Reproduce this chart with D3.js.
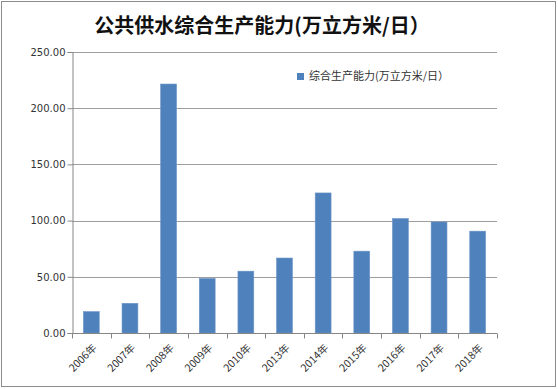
<!DOCTYPE html>
<html>
<head>
<meta charset="utf-8">
<script src="https://cdn.jsdelivr.net/npm/d3@7"></script>
<style>
  body { margin: 0; background: #fff; }
  text { font-family: "Noto Sans CJK SC", "DejaVu Sans", sans-serif; }
</style>
</head>
<body>
<div id="chart"></div>
<script>
var years = ["2006年", "2007年", "2008年", "2009年", "2010年", "2013年", "2014年", "2015年", "2016年", "2017年", "2018年"];
var capacity = [19.0, 26.4, 221.5, 48.5, 55.0, 66.7, 124.6, 72.8, 101.8, 98.8, 90.6];
var yTicks = [0, 50, 100, 150, 200, 250];
var seriesName = "综合生产能力(万立方米/日）";
var titleText = "公共供水综合生产能力(万立方米/日）";

var W = 558, H = 389;
var margin = {top: 52, right: 61, bottom: 56, left: 72},
    width = W - margin.left - margin.right,
    height = H - margin.top - margin.bottom;

var svg = d3.select("#chart")
  .append("svg")
    .attr("width", W)
    .attr("height", H);

// outer frame
svg.append("rect")
    .attr("x", 1.5).attr("y", 1.5)
    .attr("width", W - 4).attr("height", H - 4)
    .attr("fill", "#fff")
    .attr("stroke", "#8c8c8c")
    .attr("stroke-width", 1);

svg.append("text")
    .attr("x", 262)
    .attr("y", 33)
    .attr("text-anchor", "middle")
    .style("font-size", "20px")
    .style("font-weight", "bold")
    .attr("fill", "#111")
    .text(titleText);

var g = svg.append("g")
    .attr("transform", "translate(" + margin.left + "," + margin.top + ")");

var x = d3.scaleBand()
    .domain(years)
    .range([0, width])
    .paddingInner(0.59)
    .paddingOuter(0.295);

var y = d3.scaleLinear()
    .domain([0, 250])
    .range([height, 0]);

// gridlines
g.append("g")
  .selectAll("line")
  .data(yTicks.filter(function (d) { return d > 0; }))
  .enter()
  .append("line")
    .attr("x1", 0).attr("x2", width)
    .attr("y1", function (d) { return Math.round(y(d)) + 0.5; })
    .attr("y2", function (d) { return Math.round(y(d)) + 0.5; })
    .attr("stroke", "#9e9e9e")
    .attr("stroke-width", 1);

// y axis
var yAxis = g.append("g")
    .attr("transform", "translate(0.5,0)")
    .call(d3.axisLeft(y).tickValues(yTicks).tickSize(5).tickFormat(d3.format(".2f")));
yAxis.selectAll("line, path").attr("stroke", "#868686");
yAxis.selectAll("text")
    .attr("fill", "#333")
    .attr("x", -7)
    .style("font-family", "'DejaVu Sans', sans-serif")
    .style("font-size", "10px");

// bars
g.append("g")
  .selectAll("rect")
  .data(capacity)
  .enter()
  .append("rect")
    .attr("x", function (d, i) { return x(years[i]); })
    .attr("y", function (d) { return y(d); })
    .attr("width", x.bandwidth())
    .attr("height", function (d) { return height - y(d); })
    .attr("fill", "#4f81bd")
    .attr("stroke", "#6b93c6")
    .attr("stroke-width", 0.6);

// x axis with ticks at band boundaries
var xAxis = g.append("g")
    .attr("transform", "translate(0," + (Math.round(height) + 0.5) + ")");
xAxis.append("line")
    .attr("x1", 0).attr("x2", width)
    .attr("stroke", "#868686");
xAxis.selectAll(".tk")
  .data(d3.range(years.length + 1))
  .enter()
  .append("line")
    .attr("x1", function (d) { return Math.round(d * width / years.length) + 0.5; })
    .attr("x2", function (d) { return Math.round(d * width / years.length) + 0.5; })
    .attr("y1", 0).attr("y2", 5)
    .attr("stroke", "#868686");
xAxis.selectAll(".lbl")
  .data(years)
  .enter()
  .append("text")
    .attr("transform", function (d) {
      return "translate(" + (x(d) + x.bandwidth() / 2 + 6) + ",15) rotate(-45)";
    })
    .attr("text-anchor", "end")
    .attr("fill", "#333")
    .style("font-size", "10.5px")
    .text(function (d) { return d; });

// legend
var legend = svg.append("g")
    .attr("transform", "translate(297,73)");
legend.append("rect")
    .attr("width", 7).attr("height", 7)
    .attr("fill", "#4f81bd");
legend.append("text")
    .attr("x", 12)
    .attr("y", 7)
    .attr("fill", "#333")
    .style("font-size", "11px")
    .text(seriesName);
</script>
</body>
</html>
